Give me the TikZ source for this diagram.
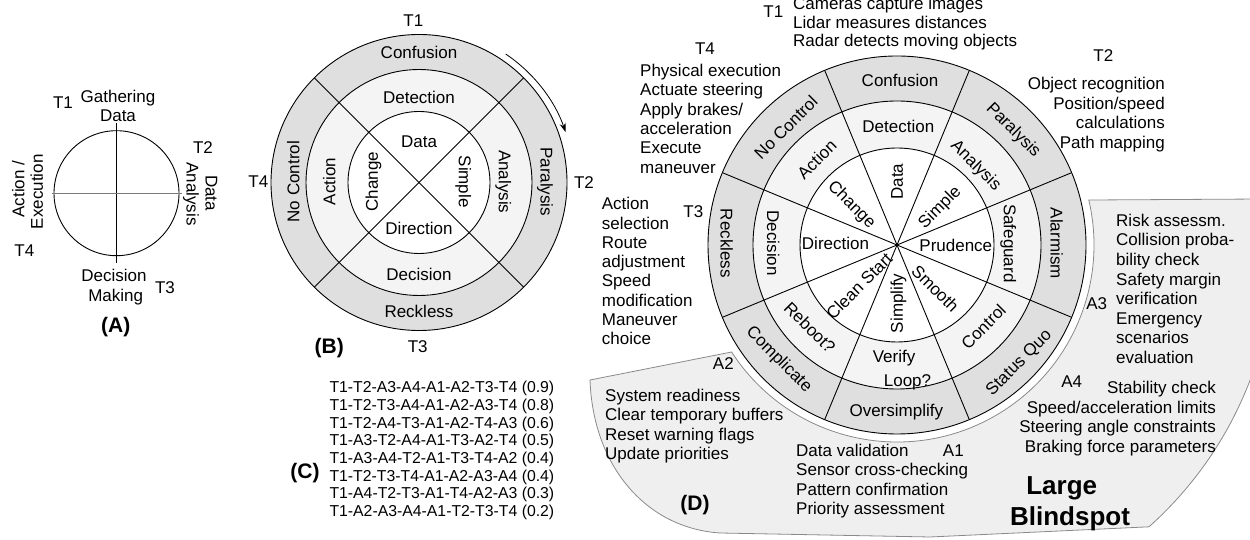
\documentclass[tikz,border=0pt]{standalone}
\usepackage{fontspec}
\setmainfont{Liberation Sans}
\usetikzlibrary{arrows.meta}
\definecolor{ringout}{HTML}{DFDFDF}
\definecolor{ringmid}{HTML}{F4F4F4}
\definecolor{blind}{HTML}{EFEFEF}
\definecolor{blindline}{HTML}{8A8A8A}
\definecolor{axisgray}{HTML}{7A7A7A}
\begin{document}
\begin{tikzpicture}[x=1pt,y=1pt,
  lab/.style={font=\fontsize{17}{20}\selectfont, inner sep=0pt, text height=12.2pt, text depth=0pt},
  blk/.style={font=\fontsize{17}{19.4}\selectfont, inner sep=0pt, align=left},
  blkr/.style={font=\fontsize{17}{19.4}\selectfont, inner sep=0pt, align=right},
  tag/.style={font=\bfseries\fontsize{21}{24}\selectfont, inner sep=0pt, text height=15.3pt, text depth=4.4pt},
  big/.style={font=\bfseries\fontsize{26}{30}\selectfont, inner sep=0pt, text height=18.6pt, text depth=0pt},
  wline/.style={line width=0.9pt},
]
\useasboundingbox (0,0) rectangle (1250,540);

% ================= (A) =================
\coordinate (Ac) at (116.5,346.8);
\draw[wline] (Ac) circle[radius=62.5];
\draw[line width=1pt] ([yshift=70]Ac) -- ([yshift=-70]Ac);
\draw[line width=1.3pt, axisgray] ([xshift=-65]Ac) -- ([xshift=65]Ac);
\node[lab] (At1) at (63,437.7) {T1};
\node[lab] (Ag1) at (118,443.3) {Gathering};
\node[lab] (Ag2) at (118,425) {Data};
\node[lab] (At2) at (203,393) {T2};
\node[lab, rotate=-90] (Ad1) at (211.7,347) {Data};
\node[lab, rotate=-90] (Ad2) at (192.7,346) {Analysis};
\node[lab, rotate=90] (Ax1) at (18.3,351) {Action /};
\node[lab, rotate=90] (Ax2) at (36.7,348.3) {Execution};
\node[lab] (At4) at (24.3,290) {T4};
\node[lab] (Am1) at (114,265) {Decision};
\node[lab] (Am2) at (115.7,245) {Making};
\node[lab] (At3) at (165,252.7) {T3};
\node[tag] (Alab) at (115.7,213.3) {(A)};

% ================= (B) =================
\coordinate (Bc) at (419,357.5);
\fill[ringout] (Bc) circle[radius=148];
\fill[ringmid] (Bc) circle[radius=113];
\fill[white] (Bc) circle[radius=71];
\foreach \r in {148,113,71} \draw[wline] (Bc) circle[radius=\r];
\foreach \a in {45,135,225,315} \draw[wline] (Bc) -- ++(\a:148);
\draw[line width=0.8pt, -{Stealth[length=9pt,width=6pt]}] ([shift={(56:155)}]Bc) arc[start angle=56, end angle=19, radius=155];
\node[lab] (Bt1) at (413.3,520) {T1};
\node[lab] (Bconf) at (419,487.3) {Confusion};
\node[lab] (Bdet) at (419,442.3) {Detection};
\node[lab] (Bdata) at (419,398.3) {Data};
\node[lab] (Bdir) at (419,311.7) {Direction};
\node[lab] (Bdec) at (419,266) {Decision};
\node[lab] (Breck) at (419,228.3) {Reckless};
\node[lab, rotate=90] (Bnoc) at (293.3,358.3) {No Control};
\node[lab, rotate=90] (Bact) at (329.3,358.3) {Action};
\node[lab, rotate=90] (Bchg) at (371.7,358.3) {Change};
\node[lab, rotate=-90] (Bsim) at (465,358.3) {Simple};
\node[lab, rotate=-90] (Bana) at (505,358.3) {Analysis};
\node[lab, rotate=-90] (Bpar) at (546.7,358.3) {Paralysis};
\node[lab] (Bt4) at (258.3,358.3) {T4};
\node[lab] (Bt2) at (584,358) {T2};
\node[lab] (Bt3) at (417.7,193.3) {T3};
\node[tag] (Blab) at (329.3,191.7) {(B)};

% ================= (C) =================
\node[anchor=north west, inner sep=0pt, align=left, font=\fontsize{15.8}{17.7}\selectfont] (Clist) at (329.3,159) {%
T1-T2-A3-A4-A1-A2-T3-T4 (0.9)\\
T1-T2-T3-A4-A1-A2-A3-T4 (0.8)\\
T1-T2-A4-T3-A1-A2-T4-A3 (0.6)\\
T1-A3-T2-A4-A1-T3-A2-T4 (0.5)\\
T1-A3-A4-T2-A1-T3-T4-A2 (0.4)\\
T1-T2-T3-T4-A1-A2-A3-A4 (0.4)\\
T1-A4-T2-T3-A1-T4-A2-A3 (0.3)\\
T1-A2-A3-A4-A1-T2-T3-T4 (0.2)};
\node[tag] (Clab) at (305,67) {(C)};

% ================= (D) =================
\coordinate (Dc) at (897,295);
\begin{scope}
\clip (0,0) rectangle (1250,540);
\draw[blindline, fill=blind, line width=0.8pt]
  (590,160) -- ([shift={(212.9:197)}]Dc)
  arc[start angle=212.9, end angle=373.2, radius=197]
  -- (1262,341) -- (1262,196.5)
  arc[start angle=-15.1, end angle=-48.2, radius=378]
  -- (930,3) -- (720,7)
  .. controls (645,12) and (593,75) .. cycle;
\end{scope}
\fill[ringout] (Dc) circle[radius=189];
\fill[ringmid] (Dc) circle[radius=144];
\fill[white] (Dc) circle[radius=97];
\foreach \r in {189,144,97} \draw[wline] (Dc) circle[radius=\r];
\foreach \a in {22.5,67.5,112.5,157.5,202.5,247.5,292.5,337.5} \draw[wline] (Dc) -- ++(\a:189);

% wheel labels
\node[lab] (Dconf) at (900,460) {Confusion};
\node[lab] (Ddet) at (898.3,413.3) {Detection};
\node[lab, rotate=90] (Ddata) at (896.7,358.3) {Data};
\node[lab, rotate=-45] (Dpar) at (1014.2,410.8) {Paralysis};
\node[lab, rotate=-45] (Dana) at (976.7,375) {Analysis};
\node[lab, rotate=45] (Dsim) at (939,333.3) {Simple};
\node[lab] (Dpru) at (955.8,295) {Prudence};
\node[lab, rotate=-90] (Dsafe) at (1010,296.7) {Safeguard};
\node[lab, rotate=-90] (Dalarm) at (1056.7,296.7) {Alarmism};
\node[lab, rotate=-45] (Dsmooth) at (935.5,251.5) {Smooth};
\node[lab, rotate=45] (Dctrl) at (983.3,213.3) {Control};
\node[lab, rotate=45] (Dsq) at (1018,178) {Status Quo};
\node[lab, rotate=90] (Dsimp) at (896.7,236.7) {Simplify};
\node[lab] (Dver) at (894,183.3) {Verify};
\node[lab] (Dloop) at (907.5,160) {Loop?};
\node[lab] (Dover) at (896.3,130) {Oversimplify};
\node[lab, rotate=45] (Dclean) at (859,254) {Clean Start};
\node[lab] (Ddir) at (835.5,296.7) {Direction};
\node[lab, rotate=-45] (Dchg) at (852.5,336) {Change};
\node[lab, rotate=-45] (Dreb) at (810,212.5) {Reboot?};
\node[lab, rotate=-45] (Dcomp) at (780,181.5) {Complicate};
\node[lab, rotate=-90] (Ddec) at (773.3,296.7) {Decision};
\node[lab, rotate=-90] (Dreck) at (726.7,296.7) {Reckless};
\node[lab, rotate=45] (Dact) at (816.7,380.8) {Action};
\node[lab, rotate=45] (Dnoc) at (785.8,412.5) {No Control};

% outer text blocks
\node[lab] (Dt1) at (773.3,528.3) {T1};
\node[blk, anchor=north west, font=\fontsize{17}{18.4}\selectfont] (Dt1b) at (793,542.8) {Cameras capture images\\Lidar measures distances\\Radar detects moving objects};
\node[lab] (Dt4) at (705,491.7) {T4};
\node[blk, anchor=north west, font=\fontsize{17}{19.34}\selectfont] (Dt4b) at (640,476.1) {Physical execution\\Actuate steering\\Apply brakes/\\acceleration\\Execute\\maneuver};
\node[lab] (Dt2) at (1103.3,485) {T2};
\node[blkr, anchor=north east, font=\fontsize{17}{19.47}\selectfont] (Dt2b) at (1165,462.8) {Object recognition\\Position/speed\hspace*{4.7pt}\\calculations\\Path mapping};
\node[lab] (Dt3) at (693.3,328.3) {T3};
\node[blk, anchor=north west, font=\fontsize{17}{19.29}\selectfont] (Dt3b) at (601.7,342.8) {Action\\selection\\Route\\adjustment\\Speed\\modification\\Maneuver\\choice};
\node[lab] (Da3) at (1096.7,236.7) {A3};
\node[blk, anchor=north west, font=\fontsize{17}{19.53}\selectfont] (Da3b) at (1116,326.1) {Risk assessm.\\Collision proba-\\bility check\\Safety margin\\verification\\Emergency\\scenarios\\evaluation};
\node[lab] (Da4) at (1071.7,158.3) {A4};
\node[blkr, anchor=north east, font=\fontsize{17}{19.57}\selectfont] (Da4b) at (1216,158.8) {Stability check\\Speed/acceleration limits\\Steering angle constraints\\Braking force parameters};
\node[lab] (Da1) at (953.3,90) {A1};
\node[blk, anchor=north west, font=\fontsize{17}{19.43}\selectfont] (Da1b) at (796,96.1) {Data validation\\Sensor cross-checking\\Pattern confirmation\\Priority assessment};
\node[lab] (Da2) at (723.3,176.7) {A2};
\node[blk, anchor=north west, font=\fontsize{17}{19.43}\selectfont] (Da2b) at (605,151.1) {System readiness\\Clear temporary buffers\\Reset warning flags\\Update priorities};
\node[tag] (Dlab) at (695,35) {(D)};
\node[big] (Dlarge) at (1061.7,55) {Large};
\node[big] (Dblind) at (1070,23.3) {Blindspot};
\end{tikzpicture}
\end{document}
